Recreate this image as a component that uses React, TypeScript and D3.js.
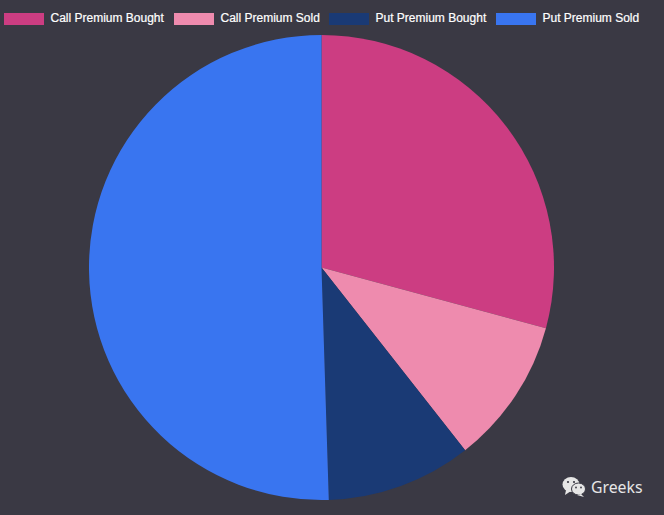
import React from "react";
import * as d3 from "d3";

const categories = ["Call Premium Bought", "Call Premium Sold", "Put Premium Bought", "Put Premium Sold"];
const values = [29.2, 10.2, 10.1, 50.5];
const colors = ["#cc3d82", "#ee8bae", "#1a3a75", "#3975f0"];
const legendSwatchX = [4, 174, 329, 496];

const W = 664, H = 515;
const cx = 321.5, cy = 267.5, R = 232.5;
const bg = "#3a3944";

export default function App() {
  const pie = d3.pie<number>().sort(null).value((d) => d);
  const arc = d3.arc<d3.PieArcDatum<number>>().innerRadius(0).outerRadius(R);
  const arcs = pie(values);
  return (
    <svg width={W} height={H} viewBox={`0 0 ${W} ${H}`} style={{ position: "fixed", left: 0, top: 0, display: "block", background: bg }}>
      <g transform={`translate(${cx},${cy})`}>
        {arcs.map((a, i) => (
          <path key={categories[i]} d={arc(a) || ""} fill={colors[i]} />
        ))}
      </g>
      {categories.map((c, i) => (
        <g key={c}>
          <rect x={legendSwatchX[i]} y={13} width={40} height={12} fill={colors[i]} />
          <text x={legendSwatchX[i] + 46.5} y={22} fontFamily="Liberation Sans, Arial, sans-serif" fontSize={12} fill="#ffffff" stroke="#ffffff" strokeWidth={0.2}>{c}</text>
        </g>
      ))}
      <g fill="#e6e6e6">
        <ellipse cx={571} cy={484.5} rx={8.5} ry={7.5} />
        <path d="M566 490 L565 495 L571 491 Z" />
        <ellipse cx={578.5} cy={489} rx={7} ry={6} stroke={bg} strokeWidth={1} />
        <path d="M581 494 L584 497 L577 495 Z" />
      </g>
      <g fill={bg}>
        <circle cx={568} cy={482} r={1.1} />
        <circle cx={574} cy={482} r={1.1} />
        <circle cx={576} cy={487.5} r={0.9} />
        <circle cx={581} cy={487.5} r={0.9} />
      </g>
      <text x={591} y={492.5} fontFamily="Noto Sans, sans-serif" fontSize={15.8} fill="#e6e6e6">Greeks</text>
    </svg>
  );
}
